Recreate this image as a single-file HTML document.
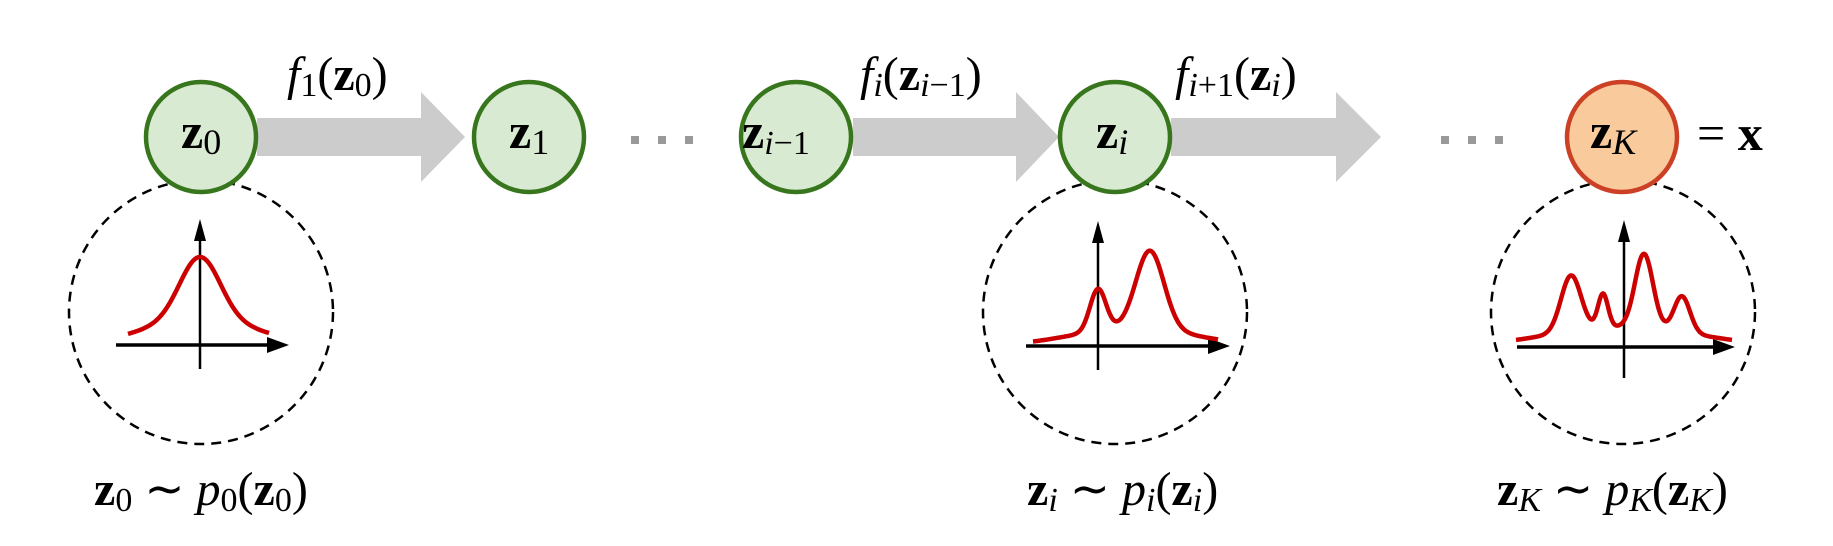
<!DOCTYPE html>
<html><head><meta charset="utf-8"><style>
html,body{margin:0;padding:0;background:#fff;}
svg{display:block;}
text{font-family:"Liberation Serif",serif;fill:#000;}
.b{font-weight:bold;font-style:normal;}
.i{font-style:italic;}
</style></head><body>
<svg id="fig" width="1833" height="546" viewBox="0 0 1833 546">
  <g fill="#cccccc">
    <polygon points="257,118 421,118 421,92 465,137 421,182 421,156 257,156"/>
    <polygon points="853,118 1016,118 1016,92 1059,137 1016,182 1016,156 853,156"/>
    <polygon points="1171,118 1336,118 1336,92 1381,137 1336,182 1336,156 1171,156"/>
  </g>
  <g fill="#999999">
    <rect x="631" y="136" width="8" height="8"/><rect x="658" y="136" width="8" height="8"/><rect x="685" y="136" width="8" height="8"/>
  </g>
  <g fill="#999999">
    <rect x="1441" y="136" width="8" height="8"/><rect x="1468" y="136" width="8" height="8"/><rect x="1495" y="136" width="8" height="8"/>
  </g>
  <g fill="none" stroke="#000" stroke-width="2.5" stroke-dasharray="10,7">
    <circle cx="201" cy="312" r="132"/>
    <circle cx="1115" cy="312" r="132"/>
    <circle cx="1623" cy="312" r="132"/>
  </g>
  <g stroke-width="4.5">
    <circle cx="201" cy="137" r="55" fill="#d9ead3" stroke="#38761d"/>
    <circle cx="529" cy="137" r="55" fill="#d9ead3" stroke="#38761d"/>
    <circle cx="796" cy="137" r="55" fill="#d9ead3" stroke="#38761d"/>
    <circle cx="1115" cy="137" r="55" fill="#d9ead3" stroke="#38761d"/>
    <circle cx="1622" cy="137" r="55" fill="#f9cb9c" stroke="#cc4125"/>
  </g>
  <text x="181" y="148" font-size="50"><tspan class="b">z</tspan><tspan font-size="36" dy="6">0</tspan></text>
  <text x="509" y="148" font-size="50"><tspan class="b">z</tspan><tspan font-size="36" dy="6">1</tspan></text>
  <text x="742" y="148" font-size="50"><tspan class="b">z</tspan><tspan font-size="34" dy="6" class="i">i</tspan><tspan font-size="34">−1</tspan></text>
  <text x="1096" y="148" font-size="50"><tspan class="b">z</tspan><tspan font-size="36" dy="6" class="i">i</tspan></text>
  <text x="1590" y="148" font-size="50"><tspan class="b">z</tspan><tspan font-size="36" dy="6" class="i">K</tspan></text>
  <text x="1697" y="150" font-size="50">= <tspan class="b">x</tspan></text>
  <text x="287" y="90" font-size="48"><tspan class="i">f</tspan><tspan font-size="34" dy="6">1</tspan><tspan dy="-6">(</tspan><tspan class="b">z</tspan><tspan font-size="34" dy="6">0</tspan><tspan dy="-6">)</tspan></text>
  <text x="860" y="90" font-size="48"><tspan class="i">f</tspan><tspan font-size="34" dy="6" class="i">i</tspan><tspan dy="-6">(</tspan><tspan class="b">z</tspan><tspan font-size="34" dy="6" class="i">i</tspan><tspan font-size="34">−1</tspan><tspan dy="-6">)</tspan></text>
  <text x="1175" y="90" font-size="48"><tspan class="i">f</tspan><tspan font-size="34" dy="6" class="i">i</tspan><tspan font-size="34">+1</tspan><tspan dy="-6">(</tspan><tspan class="b">z</tspan><tspan font-size="34" dy="6" class="i">i</tspan><tspan dy="-6">)</tspan></text>
  <text x="94" y="505" font-size="48"><tspan class="b">z</tspan><tspan font-size="34" dy="6">0</tspan><tspan dy="-6"> ∼ </tspan><tspan class="i">p</tspan><tspan font-size="34" dy="6">0</tspan><tspan dy="-6">(</tspan><tspan class="b">z</tspan><tspan font-size="34" dy="6">0</tspan><tspan dy="-6">)</tspan></text>
  <text x="1027" y="505" font-size="48"><tspan class="b">z</tspan><tspan font-size="34" dy="6" class="i">i</tspan><tspan dy="-6"> ∼ </tspan><tspan class="i">p</tspan><tspan font-size="34" dy="6" class="i">i</tspan><tspan dy="-6">(</tspan><tspan class="b">z</tspan><tspan font-size="34" dy="6" class="i">i</tspan><tspan dy="-6">)</tspan></text>
  <text x="1497" y="505" font-size="48"><tspan class="b">z</tspan><tspan font-size="34" dy="6" class="i">K</tspan><tspan dy="-6"> ∼ </tspan><tspan class="i">p</tspan><tspan font-size="34" dy="6" class="i">K</tspan><tspan dy="-6">(</tspan><tspan class="b">z</tspan><tspan font-size="34" dy="6" class="i">K</tspan><tspan dy="-6">)</tspan></text>
  <g id="plots"></g>
</svg>
<script>
// density components per panel: [mean offset, width, height] (pixels relative to axis origin)
const compZ0 = [[0, 20, 62], [0, 55, 26]];
const compZi = [[0, 8, 42], [52, 14, 78], [35, 60, 18]];
const compZK = [[-53, 10, 56], [-21, 5, 34], [20, 9, 74], [58, 8, 36], [0, 75, 20]];
const rangeZ0 = [-72, 69];
const rangeZi = [-65, 120];
const rangeZK = [-108, 108];

const NS = 'http://www.w3.org/2000/svg';
const g = document.getElementById('plots');
function axesPanel(name, ox, oy, x0, x1, yTop, yBot, comps, range) {
  const grp = document.createElementNS(NS, 'g');
  
  
  const yAx = document.createElementNS(NS, 'line');
  
  
  yAx.setAttribute('x1', ox); yAx.setAttribute('x2', ox);
  yAx.setAttribute('y1', yBot); yAx.setAttribute('y2', yTop + 14);
  yAx.setAttribute('stroke', '#000'); yAx.setAttribute('stroke-width', '2.5');
  grp.appendChild(yAx);
  const yHead = document.createElementNS(NS, 'polygon');
  
  
  yHead.setAttribute('points', `${ox},${yTop} ${ox-6},${yTop+22} ${ox+6},${yTop+22}`);
  grp.appendChild(yHead);
  const xAx = document.createElementNS(NS, 'line');
  
  
  xAx.setAttribute('x1', x0); xAx.setAttribute('x2', x1 - 14);
  xAx.setAttribute('y1', oy); xAx.setAttribute('y2', oy);
  xAx.setAttribute('stroke', '#000'); xAx.setAttribute('stroke-width', '3.5');
  grp.appendChild(xAx);
  const xHead = document.createElementNS(NS, 'polygon');
  
  
  xHead.setAttribute('points', `${x1},${oy} ${x1-22},${oy-8} ${x1-22},${oy+8}`);
  grp.appendChild(xHead);
  let d = '';
  for (let dx = range[0]; dx <= range[1]; dx += 1) {
    let h = 0;
    for (const c of comps) h += c[2] * Math.exp(-0.5 * Math.pow((dx - c[0]) / c[1], 2));
    d += (d ? 'L' : 'M') + (ox + dx) + ',' + (oy - h).toFixed(1);
  }
  const p = document.createElementNS(NS, 'path');
  
  
  p.setAttribute('d', d);
  p.setAttribute('fill', 'none'); p.setAttribute('stroke', '#cc0000');
  p.setAttribute('stroke-width', '4.5'); p.setAttribute('stroke-linejoin', 'round');
  grp.appendChild(p);
  g.appendChild(grp);
}
axesPanel('density-plot-z0', 200, 345, 116, 289, 219, 369, compZ0, rangeZ0);
axesPanel('density-plot-zi', 1098, 346, 1026, 1230, 221, 370, compZi, rangeZi);
axesPanel('density-plot-zK', 1624, 347, 1517, 1735, 220, 378, compZK, rangeZK);
</script>
</body></html>
